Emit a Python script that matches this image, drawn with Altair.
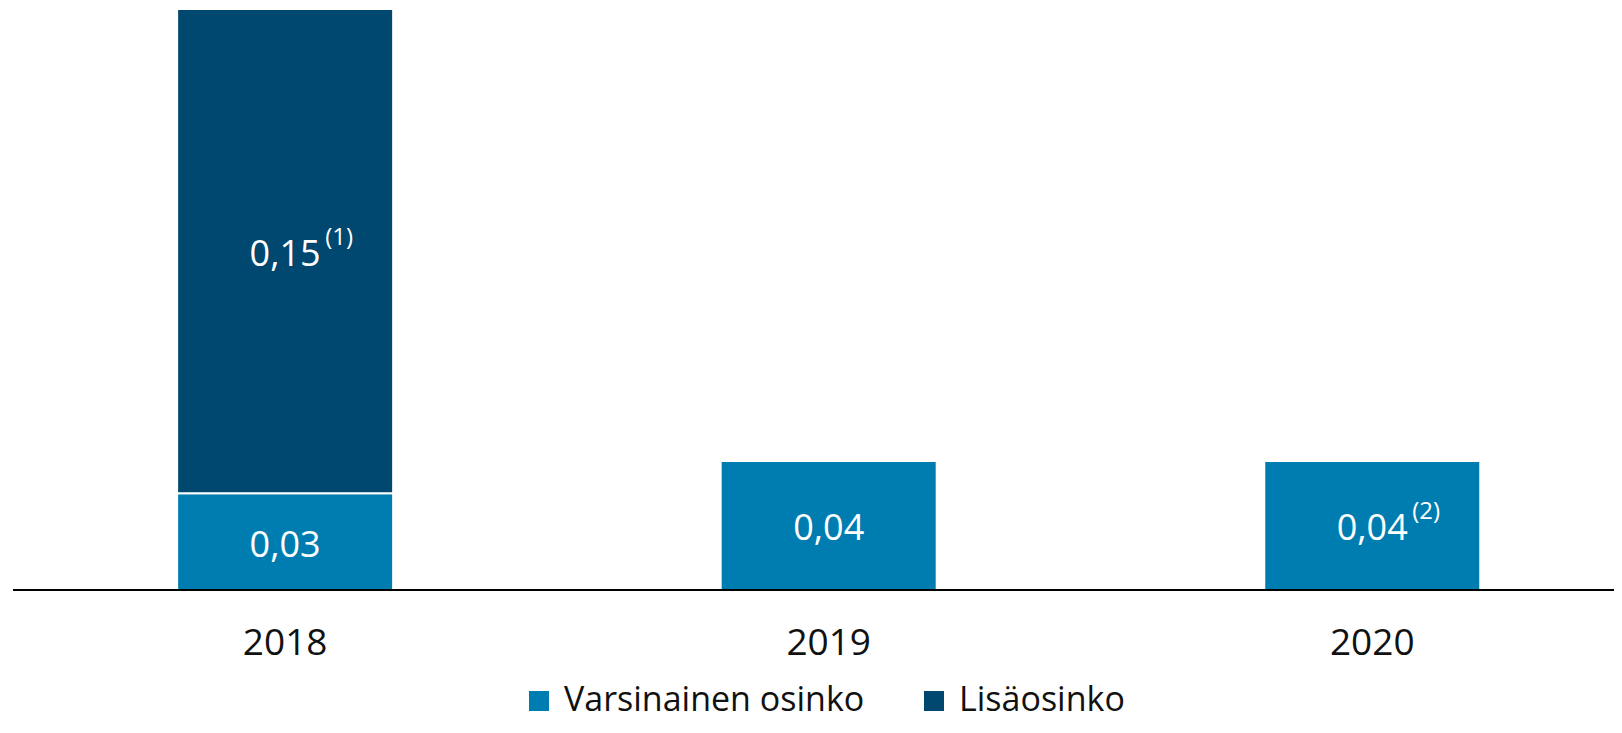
import altair as alt
import pandas as pd

years = ["2018", "2018", "2019", "2020"]
series = ["Varsinainen osinko", "Lisäosinko", "Varsinainen osinko", "Varsinainen osinko"]
values = [0.03, 0.15, 0.04, 0.04]
labels = ["0,03", "0,15", "0,04", "0,04"]
notes = ["", "(1)", "", "(2)"]
series_order = ["Varsinainen osinko", "Lisäosinko"]
colors = ["#007db0", "#00486f"]

df = pd.DataFrame({"year": years, "series": series, "value": values,
                   "label": labels, "note": notes})
df["order"] = df["series"].map({s: i for i, s in enumerate(series_order)})
base_vals = []
acc = {}
for y, v in zip(df["year"], df["value"]):
    b = acc.get(y, 0.0)
    base_vals.append(b + v / 2)
    acc[y] = b + v
df["mid"] = base_vals

FONT = "Open Sans"

xscale = alt.Scale(paddingInner=0.6026, paddingOuter=0.274, align=0.551)
yscale = alt.Scale(domain=[0, 0.18], nice=False, zero=True)

x = alt.X("year:N", scale=xscale, sort=["2018", "2019", "2020"],
          axis=alt.Axis(title=None, labelAngle=0, ticks=False, grid=False,
                        domain=False, labelFontSize=37,
                        labelFont=FONT, labelColor="#111111", labelPadding=35))

bars = alt.Chart(df).mark_bar(stroke="white", strokeWidth=2).encode(
    x=x,
    y=alt.Y("sum(value):Q", stack="zero", scale=yscale, axis=None),
    color=alt.Color("series:N", scale=alt.Scale(domain=series_order, range=colors),
                    legend=alt.Legend(title=None, orient="none", direction="horizontal",
                                      legendX=509, legendY=675, symbolType="square",
                                      symbolSize=400, symbolStrokeWidth=0,
                                      labelFontSize=34, labelFont=FONT, labelLimit=0,
                                      labelColor="#111111", columnPadding=52,
                                      labelOffset=8, padding=0)),
    order=alt.Order("order:Q"),
)

baseline = alt.Chart(df).mark_rule(color="black", strokeWidth=2).encode(
    x=alt.value(0), x2=alt.value(1700), y=alt.value(581)
)

text = alt.Chart(df).mark_text(color="white", fontSize=36, font=FONT,
                               align="center", baseline="middle", dy=4).encode(
    x=alt.X("year:N", scale=xscale, sort=["2018", "2019", "2020"]),
    y=alt.Y("mid:Q", scale=yscale),
    text="label:N",
)

sup = alt.Chart(df).mark_text(color="white", fontSize=24, font=FONT,
                              align="left", baseline="middle", dx=40, dy=-13).encode(
    x=alt.X("year:N", scale=xscale, sort=["2018", "2019", "2020"]),
    y=alt.Y("mid:Q", scale=yscale),
    text="note:N",
)

chart = alt.layer(bars, baseline, text, sup).properties(
    width=1601, height=581,
    autosize=alt.AutoSizeParams(type="none"),
    padding={"left": 5, "top": 1, "right": 0, "bottom": 129},
).configure_view(stroke=None)

chart.save("out.html", embed_options={"renderer": "svg", "actions": False})
